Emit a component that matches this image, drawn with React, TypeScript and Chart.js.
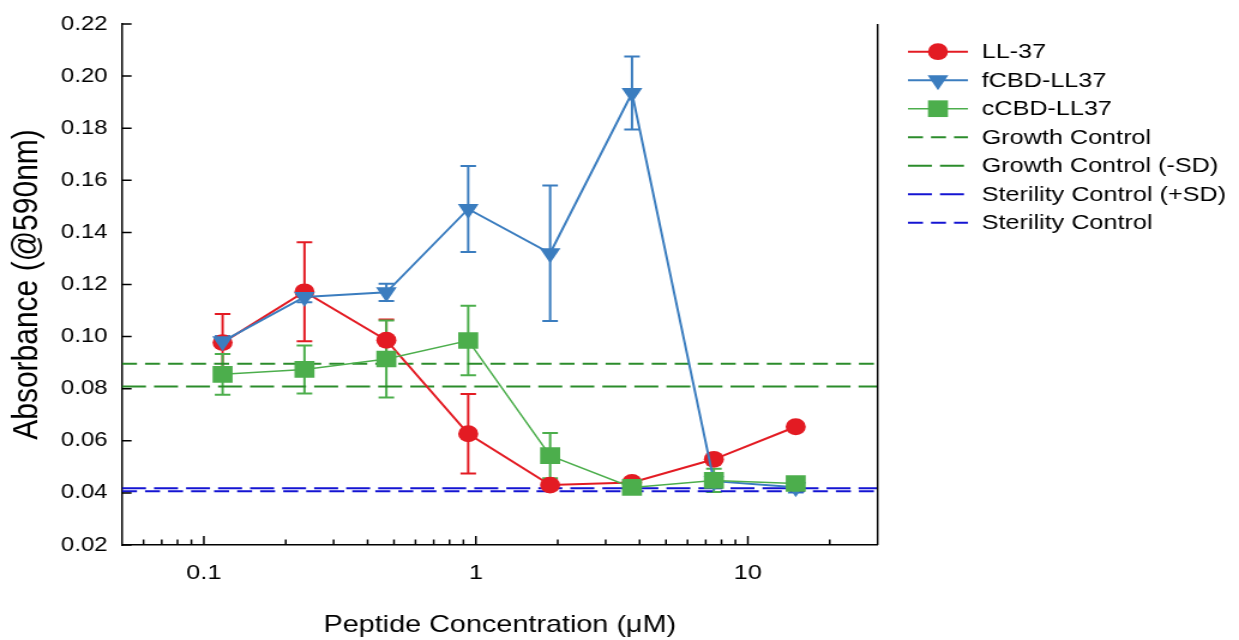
import React, { useEffect, useRef } from 'react';
import { Chart, registerables } from 'chart.js';
import { drawPoint } from 'chart.js/helpers';

Chart.register(...registerables);

// ---------- data ----------
const concentrations = [0.1171875, 0.234375, 0.46875, 0.9375, 1.875, 3.75, 7.5, 15];

const ll37Mean = [0.0977, 0.1172, 0.0986, 0.0627, 0.043, 0.044, 0.0529, 0.0654];
const ll37Err = [0.011, 0.019, 0.008, 0.0153, 0.001, 0.001, 0.001, 0.001];

const fcbdMean = [0.0982, 0.1152, 0.117, 0.149, 0.132, 0.1935, 0.0445, 0.0422];
const fcbdErr = [0.002, 0.002, 0.0033, 0.0165, 0.026, 0.014, 0.002, 0.002];

const ccbdMean = [0.0855, 0.0874, 0.0914, 0.0985, 0.0543, 0.0421, 0.0448, 0.0436];
const ccbdErr = [0.0078, 0.0092, 0.0148, 0.0133, 0.0087, 0.001, 0.0045, 0.001];

const growthControl = 0.0896;
const growthControlMinusSD = 0.0808;
const sterilityControlPlusSD = 0.0418;
const sterilityControl = 0.0406;

const seriesLabels = ['LL-37', 'fCBD-LL37', 'cCBD-LL37'];
const controlLabels = ['Growth Control', 'Growth Control (-SD)', 'Sterility Control (+SD)', 'Sterility Control'];

const xRange = [0.05, 30];
const xMajorTicks = [0.1, 1, 10];
const xTickLabels = ['0.1', '1', '10'];
const xMinorTicks = [0.06, 0.07, 0.08, 0.09, 0.2, 0.3, 0.4, 0.5, 0.6, 0.7, 0.8, 0.9, 2, 3, 4, 5, 6, 7, 8, 9, 20];
const yMin = 0.02;
const yMax = 0.22;
const yStep = 0.02;

const xTitle = 'Peptide Concentration (\u03bcM)';
const yTitle = 'Absorbance (@590nm)';

// ---------- styling ----------
const FONT = '"Liberation Sans", Arial, sans-serif';
const CANVAS_W = 1033;
const CANVAS_H = 640;
const RED = '#e31b23';
const BLUE = '#3b7dbf';
const GREEN = '#4cae4c';
const DGREEN = '#2b8c2b';
const DBLUE = '#1414d2';

const errorBarPlugin = {
  id: 'errorBars',
  beforeDatasetsDraw(chart: any) {
    const ctx = chart.ctx;
    const xs = chart.scales.x;
    const ys = chart.scales.y;
    chart.data.datasets.forEach((ds: any) => {
      if (!ds.errors) return;
      ctx.save();
      ctx.strokeStyle = ds.borderColor;
      ctx.lineWidth = 2;
      ds.data.forEach((p: any, i: number) => {
        const e = ds.errors[i];
        const px = xs.getPixelForValue(p.x);
        const top = ys.getPixelForValue(p.y + e);
        const bot = ys.getPixelForValue(p.y - e);
        const cap = 6.5;
        ctx.beginPath();
        ctx.moveTo(px, top);
        ctx.lineTo(px, bot);
        ctx.moveTo(px - cap, top);
        ctx.lineTo(px + cap, top);
        ctx.moveTo(px - cap, bot);
        ctx.lineTo(px + cap, bot);
        ctx.stroke();
      });
      ctx.restore();
    });
  },
};

const frameTicksPlugin = {
  id: 'frameTicks',
  afterDraw(chart: any) {
    const ctx = chart.ctx;
    const { left, right, top, bottom } = chart.chartArea;
    const xs = chart.scales.x;
    const ys = chart.scales.y;
    ctx.save();
    ctx.strokeStyle = '#000';
    ctx.lineWidth = 1.5;
    ctx.beginPath();
    ctx.moveTo(right, top);
    ctx.lineTo(right, bottom);
    ys.ticks.forEach((t: any) => {
      const py = ys.getPixelForValue(t.value);
      ctx.moveTo(left, py);
      ctx.lineTo(left + 8, py);
    });
    xMajorTicks.forEach((v) => {
      const px = xs.getPixelForValue(v);
      ctx.moveTo(px, bottom);
      ctx.lineTo(px, bottom - 9);
    });
    xMinorTicks.forEach((v) => {
      const px = xs.getPixelForValue(v);
      ctx.moveTo(px, bottom);
      ctx.lineTo(px, bottom - 5.5);
    });
    ctx.stroke();
    ctx.restore();
  },
};

const legendPlugin = {
  id: 'sideLegend',
  afterDraw(chart: any) {
    const ctx = chart.ctx;
    const x0 = 757;
    const x1 = 807;
    const tx = 818.5;
    const y0 = 51.7;
    const dy = 28.5;
    chart.data.datasets.forEach((ds: any, i: number) => {
      const y = y0 + i * dy;
      ctx.save();
      ctx.strokeStyle = ds.borderColor;
      ctx.lineWidth = ds.borderWidth;
      ctx.setLineDash(ds.borderDash || []);
      ctx.beginPath();
      ctx.moveTo(x0, y);
      ctx.lineTo(x1, y);
      ctx.stroke();
      ctx.setLineDash([]);
      if (ds.pointRadius > 0) {
        ctx.fillStyle = ds.backgroundColor;
        drawPoint(ctx, { pointStyle: ds.pointStyle, rotation: ds.rotation || 0, radius: ds.pointRadius, borderWidth: 0 }, (x0 + x1) / 2, y);
      }
      ctx.fillStyle = '#000';
      ctx.font = `21px ${FONT}`;
      ctx.textBaseline = 'middle';
      ctx.textAlign = 'left';
      ctx.fillText(ds.label, tx, y + 1);
      ctx.restore();
    });
  },
};

function series(label: string, mean: number[], err: number[], color: string, style: string, radius: number, width: number, order: number, rotation = 0) {
  return {
    label,
    data: concentrations.map((x, i) => ({ x, y: mean[i] })),
    errors: err,
    borderColor: color,
    backgroundColor: color,
    borderWidth: width,
    pointStyle: style,
    pointRadius: radius,
    pointBorderWidth: 0,
    rotation,
    showLine: true,
    order,
  };
}

function hline(label: string, value: number, color: string, dash: number[]) {
  return {
    label,
    data: xRange.map((x) => ({ x, y: value })),
    borderColor: color,
    backgroundColor: color,
    borderWidth: 2,
    borderDash: dash,
    pointRadius: 0,
    showLine: true,
    order: 10,
  };
}

export default function App() {
  const ref = useRef<HTMLCanvasElement>(null);
  useEffect(() => {
    const datasets: any[] = [
      series(seriesLabels[0], ll37Mean, ll37Err, RED, 'circle', 8.4, 2, 3),
      series(seriesLabels[1], fcbdMean, fcbdErr, BLUE, 'triangle', 10, 2, 2, 180),
      series(seriesLabels[2], ccbdMean, ccbdErr, GREEN, 'rect', 11.8, 1.5, 1),
      hline(controlLabels[0], growthControl, DGREEN, [12.5, 6.7]),
      hline(controlLabels[1], growthControlMinusSD, DGREEN, [20, 6.7]),
      hline(controlLabels[2], sterilityControlPlusSD, DBLUE, [20, 6.7]),
      hline(controlLabels[3], sterilityControl, DBLUE, [12.5, 6.7]),
    ];
    const chart = new Chart(ref.current as HTMLCanvasElement, {
      type: 'scatter',
      data: { datasets },
      options: {
        responsive: false,
        animation: false,
        devicePixelRatio: 1,
        events: [],
        layout: { padding: { left: 0, top: 20, right: CANVAS_W - 731.7, bottom: 0 } },
        plugins: { legend: { display: false }, tooltip: { enabled: false } },
        scales: {
          x: {
            type: 'logarithmic',
            position: 'bottom',
            min: xRange[0],
            max: xRange[1],
            afterBuildTicks: (s: any) => {
              s.ticks = xMajorTicks.map((v) => ({ value: v }));
            },
            afterFit: (s: any) => {
              s.height = 95;
            },
            ticks: {
              autoSkip: false,
              maxRotation: 0,
              padding: 16,
              color: '#000',
              font: { family: FONT, size: 21 },
              callback: (v: any) => {
                const i = xMajorTicks.indexOf(Number(v));
                return i >= 0 ? xTickLabels[i] : '';
              },
            },
            grid: { display: false, drawTicks: false },
            border: { display: true, color: '#000', width: 1.5 },
            title: { display: true, text: xTitle, color: '#000', font: { family: FONT, size: 24 }, padding: { top: 0, bottom: 0 } },
          },
          y: {
            type: 'linear',
            min: yMin,
            max: yMax,
            afterFit: (s: any) => {
              s.width = 101.7;
            },
            ticks: {
              stepSize: yStep,
              padding: 12,
              color: '#000',
              font: { family: FONT, size: 20 },
              callback: (v: any) => Number(v).toFixed(2),
            },
            grid: { display: false, drawTicks: false },
            border: { display: true, color: '#000', width: 1.5 },
            title: { display: true, text: yTitle, color: '#000', font: { family: FONT, size: 30 }, padding: { top: 5, bottom: 0 } },
          },
        },
      } as any,
      plugins: [errorBarPlugin, frameTicksPlugin, legendPlugin],
    });
    return () => chart.destroy();
  }, []);
  return (
    <div style={{ position: 'fixed', left: 0, top: 0, width: 1239, height: 640, background: '#fff' }}>
      <canvas ref={ref} width={CANVAS_W} height={CANVAS_H} style={{ width: '1239px', height: '640px', display: 'block' }} />
    </div>
  );
}
